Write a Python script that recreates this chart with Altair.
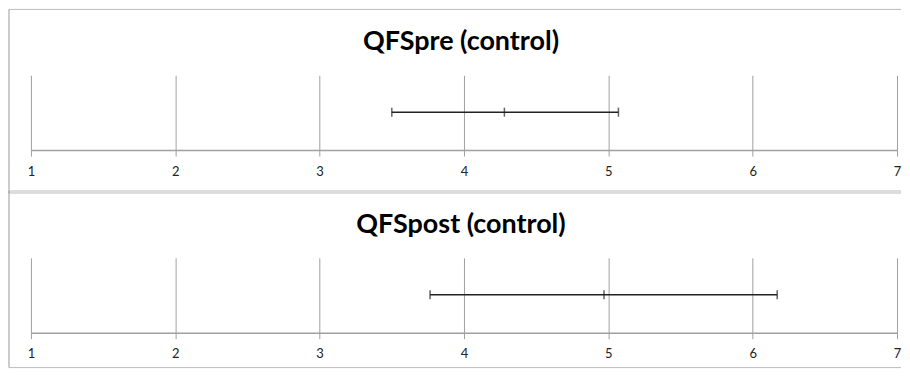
import altair as alt
import pandas as pd

titles = ["QFSpre (control)", "QFSpost (control)"]
lows = [3.50, 3.765]
means = [4.28, 4.97]
highs = [5.07, 6.17]
tick_values = [1, 2, 3, 4, 5, 6, 7]

W, H = 868, 75
GRAY = "#a0a0a0"
FONT = "Lato"


def panel(i, bottom):
    df = pd.DataFrame({"lo": [lows[i]], "mean": [means[i]], "hi": [highs[i]]})
    pts = pd.DataFrame({"v": [lows[i], means[i], highs[i]]})
    one = pd.DataFrame({"t": [titles[i]]})
    top = -66 if i == 0 else -67
    x = alt.X(
        "lo:Q",
        scale=alt.Scale(domain=[1, 7], nice=False, zero=False),
        axis=alt.Axis(
            values=tick_values, format="d", title=None, grid=True,
            gridColor=GRAY, domainColor=GRAY, tickColor=GRAY, domainWidth=1.5,
            tickSize=6, labelFont=FONT, labelFontSize=13, labelColor="#222222",
            labelPadding=9, labelFlush=False,
        ),
    )
    bar = alt.Chart(df).mark_rule(color="#222222", strokeWidth=1.5).encode(
        x=x, x2="hi:Q", y=alt.value(37)
    )
    ticks = alt.Chart(pts).mark_tick(
        color="#222222", thickness=1.5, size=9, orient="vertical"
    ).encode(x=alt.X("v:Q"), y=alt.value(37))
    left = alt.Chart(one).mark_rule(color="#999999", strokeWidth=1).encode(
        x=alt.value(-22), y=alt.value(top), y2=alt.value(bottom)
    )
    topline = alt.Chart(one).mark_rule(color="#bbbbbb", strokeWidth=1).encode(
        x=alt.value(-22), x2=alt.value(872), y=alt.value(top)
    )
    botline = alt.Chart(one).mark_rule(color="#bbbbbb", strokeWidth=1).encode(
        x=alt.value(-22), x2=alt.value(872), y=alt.value(bottom)
    )
    title = alt.Chart(one).mark_text(
        font=FONT, fontSize=27, fontWeight="bold", color="#000000",
        align="center", baseline="middle",
    ).encode(text="t:N", x=alt.value(W / 2 - 3), y=alt.value(-33))
    return alt.layer(left, topline, botline, title, bar, ticks).properties(
        width=W, height=H
    )


chart = alt.vconcat(panel(0, 118), panel(1, 110), spacing=-4).properties(
    padding=0
).configure_view(stroke=None)

chart.save("out.html", embed_options={"renderer": "svg", "actions": False})
